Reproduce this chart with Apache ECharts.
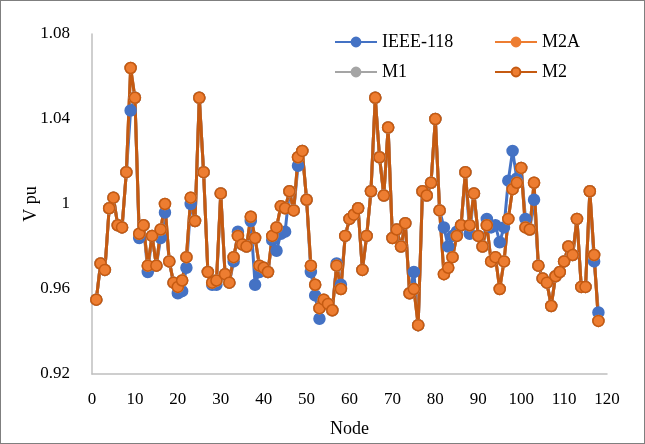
<!DOCTYPE html>
<html lang="en">
<head>
    <meta charset="utf-8">
    <title>V pu</title>
    <script src="https://cdn.jsdelivr.net/npm/echarts@6/dist/echarts.min.js"></script>
    <style>
        body { margin: 0; background: #fff; }
        #main { position: absolute; left: 0; top: 0; width: 643px; height: 442px; border: 1px solid #7f7f7f; }
    </style>
</head>
<body>
<div id="main"></div>
<script type="text/javascript">
    // node voltages
    var nodes = [];
    for (var n = 1; n <= 118; n++) nodes.push(n);

    var m2 = [
        0.955, 0.972, 0.969, 0.998, 1.003, 0.990, 0.989, 1.015, 1.064, 1.050,
        0.986, 0.990, 0.971, 0.985, 0.971, 0.988, 1.000, 0.973, 0.963, 0.961,
        0.964, 0.975, 1.003, 0.992, 1.050, 1.015, 0.968, 0.963, 0.964, 1.005,
        0.967, 0.963, 0.975, 0.985, 0.981, 0.980, 0.994, 0.984, 0.971, 0.970,
        0.968, 0.985, 0.989, 0.999, 0.998, 1.006, 0.997, 1.022, 1.025, 1.002,
        0.971, 0.962, 0.951, 0.955, 0.953, 0.950, 0.971, 0.960, 0.985, 0.993,
        0.995, 0.998, 0.969, 0.985, 1.006, 1.050, 1.022, 1.004, 1.036, 0.984,
        0.988, 0.980, 0.991, 0.958, 0.960, 0.943, 1.006, 1.004, 1.010, 1.040,
        0.997, 0.967, 0.970, 0.975, 0.985, 0.990, 1.015, 0.990, 1.005, 0.985,
        0.980, 0.990, 0.973, 0.975, 0.960, 0.973, 0.993, 1.007, 1.010, 1.017,
        0.989, 0.988, 1.010, 0.971, 0.965, 0.963, 0.952, 0.966, 0.968, 0.973,
        0.980, 0.976, 0.993, 0.961, 0.961, 1.006, 0.976, 0.945
    ];
    var m2a = m2.slice();
    var m1 = m2.slice();
    var ieee118 = [
        0.955, 0.972, 0.969, 0.998, 1.003, 0.990, 0.989, 1.015, 1.044, 1.050,
        0.984, 0.990, 0.968, 0.985, 0.971, 0.984, 0.996, 0.973, 0.963, 0.958,
        0.959, 0.970, 1.000, 0.992, 1.050, 1.015, 0.968, 0.962, 0.962, 1.005,
        0.967, 0.963, 0.973, 0.987, 0.981, 0.980, 0.992, 0.962, 0.968, 0.970,
        0.968, 0.983, 0.978, 0.986, 0.987, 1.006, 0.997, 1.018, 1.025, 1.002,
        0.968, 0.957, 0.946, 0.953, 0.953, 0.950, 0.972, 0.962, 0.985, 0.993,
        0.995, 0.998, 0.969, 0.985, 1.006, 1.050, 1.022, 1.004, 1.036, 0.984,
        0.988, 0.980, 0.991, 0.958, 0.968, 0.943, 1.006, 1.004, 1.010, 1.040,
        0.997, 0.989, 0.980, 0.985, 0.987, 0.990, 1.015, 0.986, 1.005, 0.985,
        0.980, 0.993, 0.989, 0.990, 0.982, 0.989, 1.011, 1.025, 1.012, 1.017,
        0.993, 0.988, 1.002, 0.971, 0.965, 0.963, 0.952, 0.966, 0.968, 0.973,
        0.980, 0.976, 0.993, 0.961, 0.961, 1.006, 0.973, 0.949
    ];
    var yTicks = [0.92, 0.96, 1, 1.04, 1.08];

    function pairs(vals) {
        var out = [];
        for (var i = 0; i < nodes.length; i++) out.push([nodes[i], vals[i]]);
        return out;
    }

    var font = 'Liberation Serif';
    var myChart = echarts.init(document.getElementById('main'));

    function series(name, vals, lineColor, fill, border) {
        return {
            name: name,
            type: 'line',
            data: pairs(vals),
            symbol: 'circle',
            symbolSize: 11,
            lineStyle: { color: lineColor, width: 3 },
            itemStyle: { color: fill, borderColor: border, borderWidth: 1.5 },
            emphasis: { disabled: true },
            animation: false
        };
    }

    var legendText = { fontFamily: font, fontSize: 18, color: '#000' };
    var option = {
        textStyle: { fontFamily: font },
        legend: [{
            orient: 'vertical',
            left: 328, top: 27,
            itemWidth: 42, itemHeight: 11, itemGap: 12,
            textStyle: legendText,
            data: ['IEEE-118', 'M1']
        }, {
            orient: 'vertical',
            left: 488, top: 27,
            itemWidth: 42, itemHeight: 11, itemGap: 12,
            textStyle: legendText,
            data: ['M2A', 'M2']
        }],
        grid: { left: 91, right: 37, top: 33, bottom: 68 },
        xAxis: {
            type: 'value',
            min: 0, max: 120, interval: 10,
            name: 'Node',
            nameLocation: 'middle',
            nameGap: 46,
            nameMoveOverlap: false,
            nameTextStyle: { fontFamily: font, fontSize: 18, color: '#000' },
            axisLine: { lineStyle: { color: '#bfbfbf', width: 1.5 } },
            axisTick: { show: false },
            splitLine: { show: false },
            axisLabel: { fontFamily: font, fontSize: 17, color: '#000', margin: 17 }
        },
        yAxis: {
            type: 'value',
            min: yTicks[0], max: yTicks[yTicks.length - 1], interval: 0.04,
            name: 'V pu',
            nameLocation: 'middle',
            nameRotate: 90,
            nameGap: 52,
            nameMoveOverlap: false,
            nameTextStyle: { fontFamily: font, fontSize: 18, color: '#000' },
            axisLine: { show: true, lineStyle: { color: '#bfbfbf', width: 1.5 } },
            axisTick: { show: false },
            splitLine: { show: false },
            axisLabel: {
                fontFamily: font, fontSize: 17, color: '#000', margin: 22,
                formatter: function (v) { return String(+v.toFixed(2)); }
            }
        },
        series: [
            series('IEEE-118', ieee118, '#4472C4', '#4472C4', '#4472C4'),
            series('M2A', m2a, '#ED7D31', '#ED7D31', '#ED7D31'),
            series('M1', m1, '#A5A5A5', '#A5A5A5', '#A5A5A5'),
            series('M2', m2, '#C55A11', '#ED7D31', '#C55A11')
        ]
    };

    myChart.setOption(option);
</script>
</body>
</html>
